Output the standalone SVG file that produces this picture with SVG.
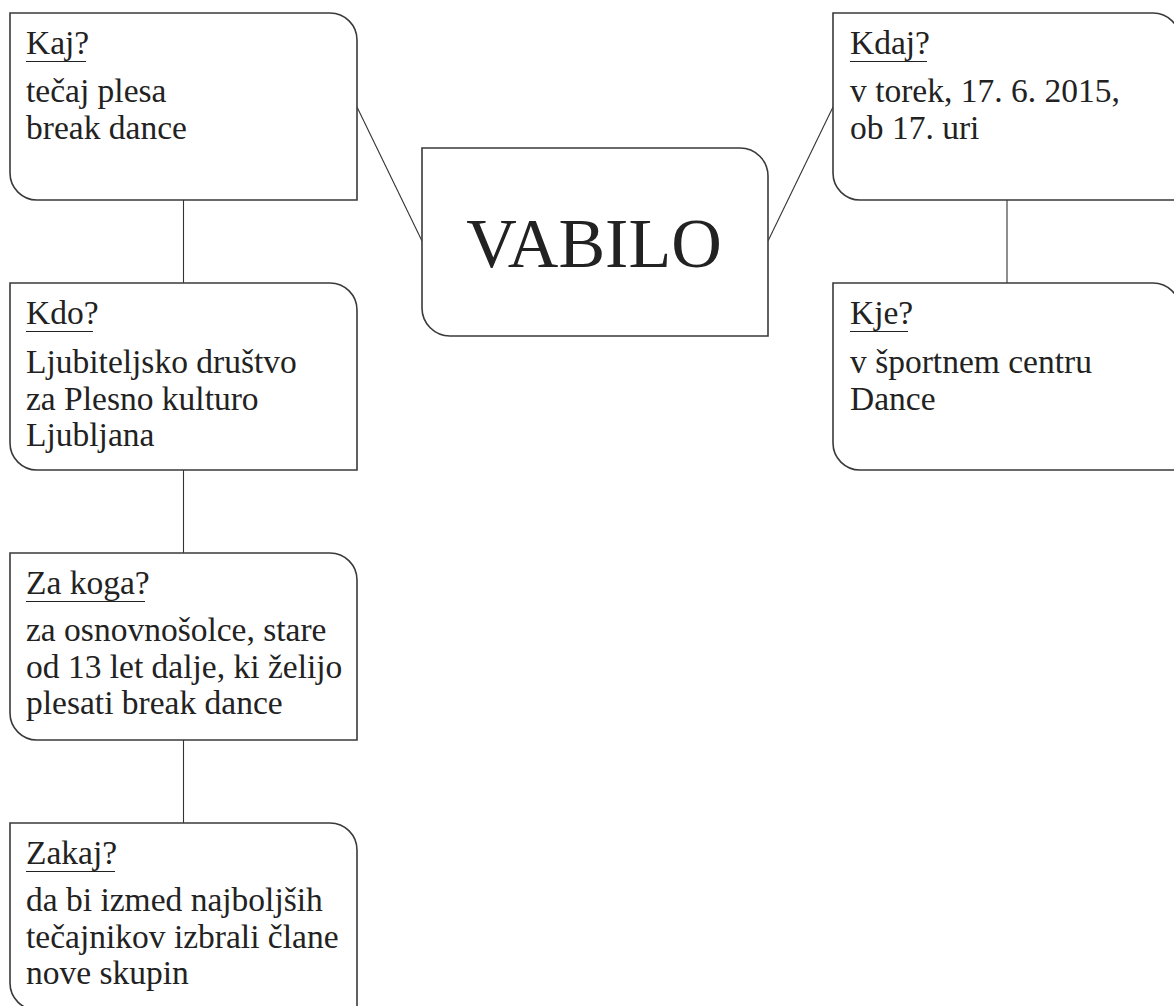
<svg xmlns="http://www.w3.org/2000/svg" width="1174" height="1006" viewBox="0 0 1174 1006">
<style>
.box{fill:#fff;stroke:#3a3a3a;stroke-width:1.6}
.con{stroke:#333;stroke-width:1.1;fill:none}
.t{font-family:"Liberation Serif","Times New Roman",serif;font-size:33.5px;fill:#222}
.ul{stroke:#222;stroke-width:1.2}
.big{font-family:"Liberation Serif","Times New Roman",serif;font-size:70px;fill:#222}
</style>
<rect width="1174" height="1006" fill="#fff"/>
<g id="connectors">
<line class="con" x1="357" y1="107" x2="422" y2="241"/>
<line class="con" x1="768" y1="241" x2="833" y2="107"/>
<line class="con" x1="183.5" y1="200" x2="183.5" y2="283"/>
<line class="con" x1="183.5" y1="470" x2="183.5" y2="553"/>
<line class="con" x1="183.5" y1="740" x2="183.5" y2="823"/>
<line class="con" x1="1007" y1="200" x2="1007" y2="283"/>
</g>
<g id="vabilo">
<path class="box" d="M422,148 H740 A28,28 0 0 1 768,176 V336 H450 A28,28 0 0 1 422,308 Z"/>
<text class="big" x="594" y="267" text-anchor="middle">VABILO</text>
</g>
<g id="kaj">
<path class="box" d="M10,13 H330 A27,27 0 0 1 357,40 V200 H37 A27,27 0 0 1 10,173 Z"/>
<text class="t" x="26" y="54">Kaj?</text>
<line class="ul" x1="26" y1="61.5" x2="86" y2="61.5"/>
<text class="t" x="26" y="102">tečaj plesa</text>
<text class="t" x="26" y="138.5">break dance</text>
</g>
<g id="kdo">
<path class="box" d="M10,283 H330 A27,27 0 0 1 357,310 V470 H37 A27,27 0 0 1 10,443 Z"/>
<text class="t" x="26" y="324">Kdo?</text>
<line class="ul" x1="26" y1="331.5" x2="93" y2="331.5"/>
<text class="t" x="26" y="373">Ljubiteljsko društvo</text>
<text class="t" x="26" y="409.5">za Plesno kulturo</text>
<text class="t" x="26" y="446">Ljubljana</text>
</g>
<g id="zakoga">
<path class="box" d="M10,553 H330 A27,27 0 0 1 357,580 V740 H37 A27,27 0 0 1 10,713 Z"/>
<text class="t" x="26" y="594">Za koga?</text>
<line class="ul" x1="26" y1="601.5" x2="145" y2="601.5"/>
<text class="t" x="26" y="641">za osnovnošolce, stare</text>
<text class="t" x="26" y="677.5">od 13 let dalje, ki želijo</text>
<text class="t" x="26" y="714">plesati break dance</text>
</g>
<g id="zakaj">
<path class="box" d="M10,823 H330 A27,27 0 0 1 357,850 V1010 H37 A27,27 0 0 1 10,983 Z"/>
<text class="t" x="26" y="864">Zakaj?</text>
<line class="ul" x1="26" y1="871.5" x2="115" y2="871.5"/>
<text class="t" x="26" y="911">da bi izmed najboljših</text>
<text class="t" x="26" y="947.5">tečajnikov izbrali člane</text>
<text class="t" x="26" y="984">nove skupin</text>
</g>
<g id="kdaj">
<path class="box" d="M833,13 H1153 A27,27 0 0 1 1180,40 V200 H860 A27,27 0 0 1 833,173 Z"/>
<text class="t" x="850" y="54">Kdaj?</text>
<line class="ul" x1="850" y1="61.5" x2="927" y2="61.5"/>
<text class="t" x="850" y="102">v torek, 17. 6. 2015,</text>
<text class="t" x="850" y="138.5">ob 17. uri</text>
</g>
<g id="kje">
<path class="box" d="M833,283 H1153 A27,27 0 0 1 1180,310 V470 H860 A27,27 0 0 1 833,443 Z"/>
<text class="t" x="850" y="324">Kje?</text>
<line class="ul" x1="850" y1="331.5" x2="908" y2="331.5"/>
<text class="t" x="850" y="373">v športnem centru</text>
<text class="t" x="850" y="409.5">Dance</text>
</g>
</svg>
